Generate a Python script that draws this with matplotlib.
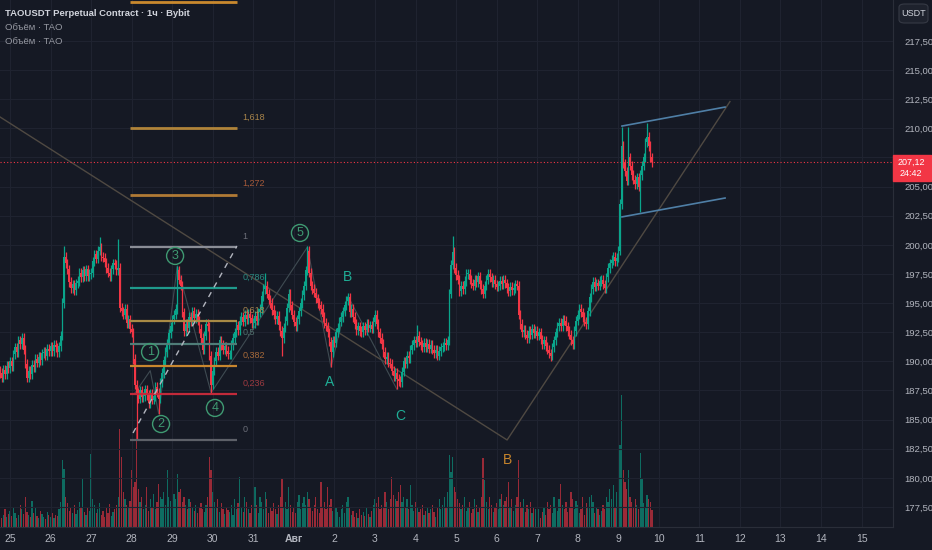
import numpy as np
import matplotlib.pyplot as plt
from matplotlib.patches import FancyBboxPatch, Rectangle

# ---- data (hourly candles, hour 0 = 25 Jul 00:00) ----
start_hour = -6
first_open = 189.2
closes = [
    # 24 Jul 18:00-23:00
    189.0, 188.6, 189.3, 188.9, 189.6, 189.4,
    # 25 Jul
    190.0, 189.6, 190.6, 191.2, 190.8, 191.8, 191.5, 192.0, 191.0, 189.8, 188.6, 189.2,
    188.9, 189.7, 189.5, 190.2, 189.9, 190.4, 190.1, 190.7, 190.8, 190.5, 191.1, 190.9,
    # 26 Jul
    191.3, 190.9, 191.4, 191.2, 190.8, 191.3, 192.2, 195.0, 199.0, 198.4, 197.9, 196.8,
    196.3, 196.6, 196.1, 196.7, 196.9, 197.6, 197.2, 197.8, 197.3, 197.9, 197.3, 197.5,
    # 27 Jul
    197.6, 198.6, 199.2, 198.8, 199.5, 199.8, 199.0, 198.9, 198.5, 198.0, 197.6, 197.3,
    197.9, 198.4, 198.3, 197.8, 198.0, 194.6, 194.3, 194.0, 194.5, 193.3, 193.6, 192.8,
    # 28 Jul
    192.5, 190.2, 188.0, 187.3, 186.8, 187.5, 186.9, 187.0, 187.6, 187.1, 186.4, 187.2,
    186.7, 187.0, 187.8, 187.3, 186.8, 188.2, 189.0, 190.1, 190.8, 191.5, 192.4, 193.0,
    # 29 Jul
    193.6, 194.0, 194.5, 197.8, 197.0, 196.5, 194.2, 192.6, 193.2, 192.9, 193.8, 193.4,
    194.3, 193.7, 194.1, 193.5, 192.8, 192.0, 191.0, 192.2, 193.2, 193.0, 190.5, 188.0,
    # 30 Jul
    189.2, 190.0, 190.8, 190.5, 191.8, 191.4, 191.0, 191.3, 190.9, 190.6, 190.6, 191.4,
    192.0, 192.5, 193.1, 192.7, 193.5, 193.8, 193.4, 194.0, 193.6, 194.1, 193.7, 193.3,
    # 31 Jul
    193.3, 193.9, 193.5, 194.2, 194.5, 195.6, 196.2, 196.5, 195.8, 195.3, 195.0, 194.4,
    194.0, 193.6, 193.9, 193.1, 192.6, 192.0, 192.9, 193.5, 194.6, 195.8, 194.8, 194.0,
    # 1 Aug
    193.4, 193.0, 193.6, 194.3, 195.0, 195.7, 196.5, 197.8, 199.5, 197.6, 196.5, 196.2,
    195.9, 195.4, 195.0, 194.8, 194.5, 193.8, 193.3, 193.0, 192.5, 191.7, 190.8, 191.8,
    # 2 Aug
    191.6, 192.5, 192.9, 193.4, 193.8, 194.3, 194.8, 195.2, 195.5, 194.2, 194.5, 193.8,
    193.2, 192.7, 193.0, 192.6, 192.5, 193.0, 192.7, 193.2, 192.9, 193.1, 192.8, 193.4,
    # 3 Aug
    194.0, 193.2, 192.5, 192.0, 191.5, 190.8, 190.2, 190.4, 189.9, 189.8, 189.2, 188.7,
    189.0, 188.5, 188.3, 188.2, 189.1, 190.0, 189.8, 190.5, 190.3, 191.0, 191.4, 191.8,
    # 4 Aug
    191.6, 192.2, 191.7, 191.4, 191.2, 191.6, 191.2, 191.5, 191.1, 191.4, 191.0, 190.7,
    191.0, 190.5, 190.9, 191.2, 191.3, 191.6, 191.4, 191.8, 195.8, 198.3, 199.4, 198.0,
    # 5 Aug
    197.4, 197.0, 196.0, 196.5, 196.2, 196.9, 197.5, 197.5, 197.0, 196.7, 196.5, 197.0,
    196.8, 197.3, 196.6, 196.2, 195.8, 196.5, 197.0, 197.5, 197.2, 196.8, 197.0, 196.6,
    # 6 Aug
    196.4, 196.5, 196.9, 196.6, 197.0, 196.7, 196.3, 196.0, 196.4, 196.1, 196.3, 196.6,
    196.5, 194.0, 193.2, 192.5, 192.7, 192.3, 192.0, 192.6, 192.3, 192.8, 192.4, 192.6,
    # 7 Aug
    192.2, 192.5, 191.9, 191.5, 191.8, 191.3, 191.0, 190.7, 190.5, 191.2, 191.8, 192.5,
    193.0, 193.3, 193.0, 193.6, 193.5, 193.0, 192.6, 192.3, 191.8, 191.5, 192.6, 193.5,
    # 8 Aug
    194.0, 194.5, 194.2, 193.8, 193.4, 193.2, 194.3, 195.5, 196.2, 196.8, 196.4, 196.7,
    196.5, 196.9, 197.0, 196.6, 196.3, 197.2, 198.0, 198.4, 198.7, 199.0, 198.6, 198.9,
    # 9 Aug
    199.5, 203.5, 208.5, 207.0, 206.3, 205.5, 207.5, 206.8, 206.0, 205.6, 205.2, 205.8,
    205.0, 206.0, 206.8, 207.5, 208.8, 209.3, 208.5, 207.5, 207.12,
]
volumes = [
    14, 9, 12, 18, 10, 13,
    16, 11, 20, 14, 9, 12, 22, 18, 13, 30, 15, 12, 10, 26, 14, 20, 11, 9, 16, 13, 10, 8, 15, 12,
    10, 14, 9, 12, 11, 18, 25, 67, 58, 30, 24, 16, 20, 14, 22, 13, 17, 25, 19, 48, 15, 12, 19, 16,
    73, 28, 22, 14, 18, 24, 12, 16, 10, 20, 14, 23, 11, 15, 18, 22, 30, 98, 70, 35, 28, 22, 19, 26,
    57, 40, 45, 100, 38, 25, 30, 18, 22, 40, 16, 28, 20, 33, 18, 25, 43, 30, 28, 35, 22, 57, 30, 26,
    40, 33, 28, 53, 35, 38, 25, 30, 22, 18, 28, 25, 20, 16, 22, 14, 19, 24, 18, 15, 22, 30, 70, 57,
    35, 25, 20, 28, 15, 24, 18, 13, 20, 17, 15, 22, 12, 28, 18, 24, 50, 20, 15, 30, 25, 18, 14, 22,
    16, 40, 22, 14, 30, 25, 18, 35, 28, 14, 20, 16, 24, 18, 13, 22, 30, 48, 20, 25, 18, 40, 22, 15,
    20, 14, 25, 32, 18, 24, 30, 22, 35, 28, 20, 16, 22, 30, 18, 14, 45, 20, 25, 18, 40, 22, 28, 16,
    12, 20, 15, 10, 18, 22, 14, 25, 30, 20, 12, 16, 10, 14, 9, 18, 12, 15, 11, 20, 13, 10, 16, 22,
    28, 24, 30, 18, 22, 20, 35, 25, 18, 28, 50, 32, 28, 26, 35, 42, 25, 30, 20, 28, 18, 42, 22, 16,
    25, 20, 15, 18, 22, 12, 16, 20, 14, 18, 22, 15, 10, 20, 28, 18, 22, 30, 20, 35, 72, 55, 70, 40,
    35, 28, 24, 18, 22, 30, 16, 20, 25, 14, 18, 28, 22, 15, 20, 30, 69, 47, 25, 18, 30, 22, 15, 20,
    24, 18, 28, 33, 22, 26, 30, 45, 20, 28, 16, 22, 30, 67, 25, 20, 28, 15, 22, 18, 25, 14, 20, 18,
    12, 18, 9, 15, 20, 12, 25, 18, 22, 14, 30, 20, 16, 28, 43, 22, 18, 25, 15, 20, 35, 28, 18, 26,
    22, 14, 18, 30, 12, 24, 20, 30, 32, 25, 14, 20, 18, 12, 16, 22, 18, 30, 25, 38, 28, 42, 20, 35,
    40, 82, 132, 57, 45, 38, 57, 30, 25, 20, 28, 22, 18, 74, 49, 24, 20, 32, 28, 25, 17,
]
# long wicks (hour -> price)
high_wicks = {32: 199.9, 53: 200.7, 64: 200.5, 99: 198.2, 151: 197.6, 176: 199.9,
              241: 193.1, 262: 200.8, 362: 210.1, 366: 210.1, 377: 210.5}
low_wicks = {75: 183.3, 88: 185.5, 119: 187.3, 161: 190.5, 190: 189.5, 229: 187.6,
             320: 190.0, 373: 202.8}

day_hours = list(range(0, 505, 24))
day_labels = ['25', '26', '27', '28', '29', '30', '31', 'Авг', '2', '3', '4', '5', '6',
              '7', '8', '9', '10', '11', '12', '13', '14', '15']
price_ticks = [177.5, 180, 182.5, 185, 187.5, 190, 192.5, 195, 197.5, 200, 202.5,
               205, 207.5, 210, 212.5, 215, 217.5]
last_price = 207.12

# fibonacci retracement
fib_low, fib_high = 183.25, 199.8
fib_start, fib_end = 71, 134.4
fib_levels = [0, 0.236, 0.382, 0.5, 0.618, 0.786, 1, 1.272, 1.618, 2.272]
fib_names = ['0', '0,236', '0,382', '0,5', '0,618', '0,786', '1', '1,272', '1,618', '']
fib_colors = ['#5d6068', '#c22a3a', '#c8862e', '#4f7d78', '#a88a45', '#1f9a8c',
              '#8a8d96', '#b07a35', '#b0843a', '#c9892e']
fib_text_colors = ['#6b6e78', '#9c3a40', '#a76a3a', '#4f6f6c', '#a88650', '#2a8a80',
                   '#6b6e78', '#a55a3a', '#a8844a', '#a8844a']

# elliott waves
impulse_h = [74, 83, 88, 99, 119, 176]
impulse_p = [187.3, 189.2, 185.5, 198.2, 187.3, 199.8]
wave_labels = ['1', '2', '3', '4', '5']
wave_label_h = [82.9, 89.4, 97.7, 121.3, 171.6]
wave_label_p = [190.8, 184.62, 199.05, 186.0, 201.02]
abc_h = [176, 190, 200, 229]
abc_p = [199.8, 189.5, 195.6, 187.6]
abc_labels = ['A', 'B', 'C']
abc_label_h = [189.4, 199.5, 230.8]
abc_label_p = [188.23, 197.24, 185.31]

# other drawings
trend_h = [-5.92, 294.2, 426.1]
trend_p = [210.98, 183.25, 212.3]
dash_h = [72.8, 134.3]
dash_p = [183.85, 199.9]
chan_h = [362.2, 423.2]
chan_top = [210.2, 211.83]
chan_bot = [202.4, 204.02]

# ---- style ----
bg = '#151924'
grid = '#1f2330'
up, down = '#0aa58b', '#f23645'
txt = '#b2b5be'
plt.rcParams['font.family'] = ['Liberation Sans', 'DejaVu Sans']

fig = plt.figure(figsize=(9.32, 5.5), dpi=100, facecolor=bg)
ax = fig.add_axes([0, 23 / 550, 893 / 932, 527 / 550])
axv = ax.twinx()
axv.set_ylim(0, 527)
axv.set_axis_off()
ax.set_zorder(axv.get_zorder() + 1)
ax.patch.set_visible(False)

hours = np.arange(start_hour, start_hour + len(closes))
c = np.array(closes)
o = np.concatenate([[first_open], c[:-1]])
hi = np.maximum(o, c) + 0.4
lo = np.minimum(o, c) - 0.4
for k, v in high_wicks.items():
    hi[k - start_hour] = v
for k, v in low_wicks.items():
    lo[k - start_hour] = v
col = np.where(c >= o, up, down)

axv.bar(hours, volumes, width=0.75, color=col, alpha=0.6, linewidth=0)

ax.vlines(hours, lo, hi, colors=col, linewidth=0.9, zorder=3)
ax.bar(hours, np.maximum(np.abs(c - o), 0.08), bottom=np.minimum(o, c),
       width=0.8, color=col, linewidth=0, zorder=4)

# fib levels
for lev, name, lc, tc in zip(fib_levels, fib_names, fib_colors, fib_text_colors):
    p = fib_low + lev * (fib_high - fib_low)
    lw = 2 if lev in (1.272, 1.618, 2.272) else 1.6
    ax.plot([fib_start, fib_end], [p, p], color=lc, lw=lw, zorder=5,
            solid_capstyle='butt')
    ax.text(fib_end + 3, p + 0.94, name, color=tc, fontsize=6.5, va='center',
            ha='left', zorder=6, clip_on=True)

ax.plot(dash_h, dash_p, color='#b2b5be', lw=1, dashes=(4, 4), zorder=5)
ax.plot(trend_h, trend_p, color='#4f4942', lw=1, zorder=2)
ax.plot(impulse_h, impulse_p, color='#3f4b52', lw=0.8, zorder=2)
ax.plot(abc_h, abc_p, color='#3f4b52', lw=0.8, zorder=2)
ax.plot(chan_h, chan_top, color='#4f7fa6', lw=1.2, zorder=5)
ax.plot(chan_h, chan_bot, color='#4f7fa6', lw=1.2, zorder=5)

for lab, h, p in zip(wave_labels, wave_label_h, wave_label_p):
    ax.text(h, p, lab, ha='center', va='center', color='#3f9a72', fontsize=9,
            zorder=7, bbox=dict(boxstyle='circle,pad=0.2', fc='none', ec='#3f9a72', lw=1))
for lab, h, p in zip(abc_labels, abc_label_h, abc_label_p):
    ax.text(h, p, lab, ha='center', va='center', color='#1fae96', fontsize=10, zorder=7)
ax.text(294.7, 181.53, 'B', ha='center', va='center', color='#c7852c', fontsize=10, zorder=7)

# last price line
ax.axhline(last_price, color=down, lw=0.8, dashes=(1, 2), zorder=3)

ax.set_xlim(-5.92, 522.6)
ax.set_ylim(175.78, 221.02)
ax.set_xticks(day_hours)
ax.set_xticklabels(day_labels)
for t in ax.get_xticklabels():
    if t.get_text() == 'Авг':
        t.set_fontweight('bold')
ax.yaxis.tick_right()
ax.set_yticks(price_ticks)
ax.set_yticklabels([f'{v:.2f}'.replace('.', ',') for v in price_ticks])
ax.tick_params(axis='both', length=0, colors=txt)
ax.tick_params(axis='y', pad=8, labelsize=6.8)
ax.tick_params(axis='x', pad=5, labelsize=7.5)
ax.grid(True, color=grid, lw=0.8)
ax.set_axisbelow(True)
for s in ['top', 'left']:
    ax.spines[s].set_visible(False)
for s in ['right', 'bottom']:
    ax.spines[s].set_color('#2a2e39')

# price label on the scale
fig.patches.append(Rectangle((893 / 932, 1 - 181 / 550), 38 / 932, 26 / 550,
                             transform=fig.transFigure, color=down))
fig.text(911 / 932, 1 - 162 / 550, '207,12', color='white', fontsize=6.5, ha='center', va='center')
fig.text(911 / 932, 1 - 174 / 550, '24:42', color='white', fontsize=6.5, ha='center', va='center')

# currency button
fig.patches.append(FancyBboxPatch((899 / 932, 1 - 23 / 550), 29 / 932, 19 / 550,
                                  boxstyle='round,pad=0,rounding_size=0.006',
                                  transform=fig.transFigure, fc='#1e222d', ec='#363a45', lw=0.8))
fig.text(913.5 / 932, 1 - 13.5 / 550, 'USDT', color='#d1d4dc', fontsize=6.5, ha='center', va='center')

# legend
fig.text(5 / 932, 1 - 14 / 550, 'TAOUSDT Perpetual Contract · 1ч · Bybit', color='#d1d4dc',
         fontsize=6.8, ha='left', va='center', fontweight='bold')
fig.text(5 / 932, 1 - 28 / 550, 'Объём · TAO', color='#9598a1', fontsize=6.8, ha='left', va='center')
fig.text(5 / 932, 1 - 42 / 550, 'Объём · TAO', color='#9598a1', fontsize=6.8, ha='left', va='center')

fig.savefig('out.png', dpi=100, facecolor=bg)
